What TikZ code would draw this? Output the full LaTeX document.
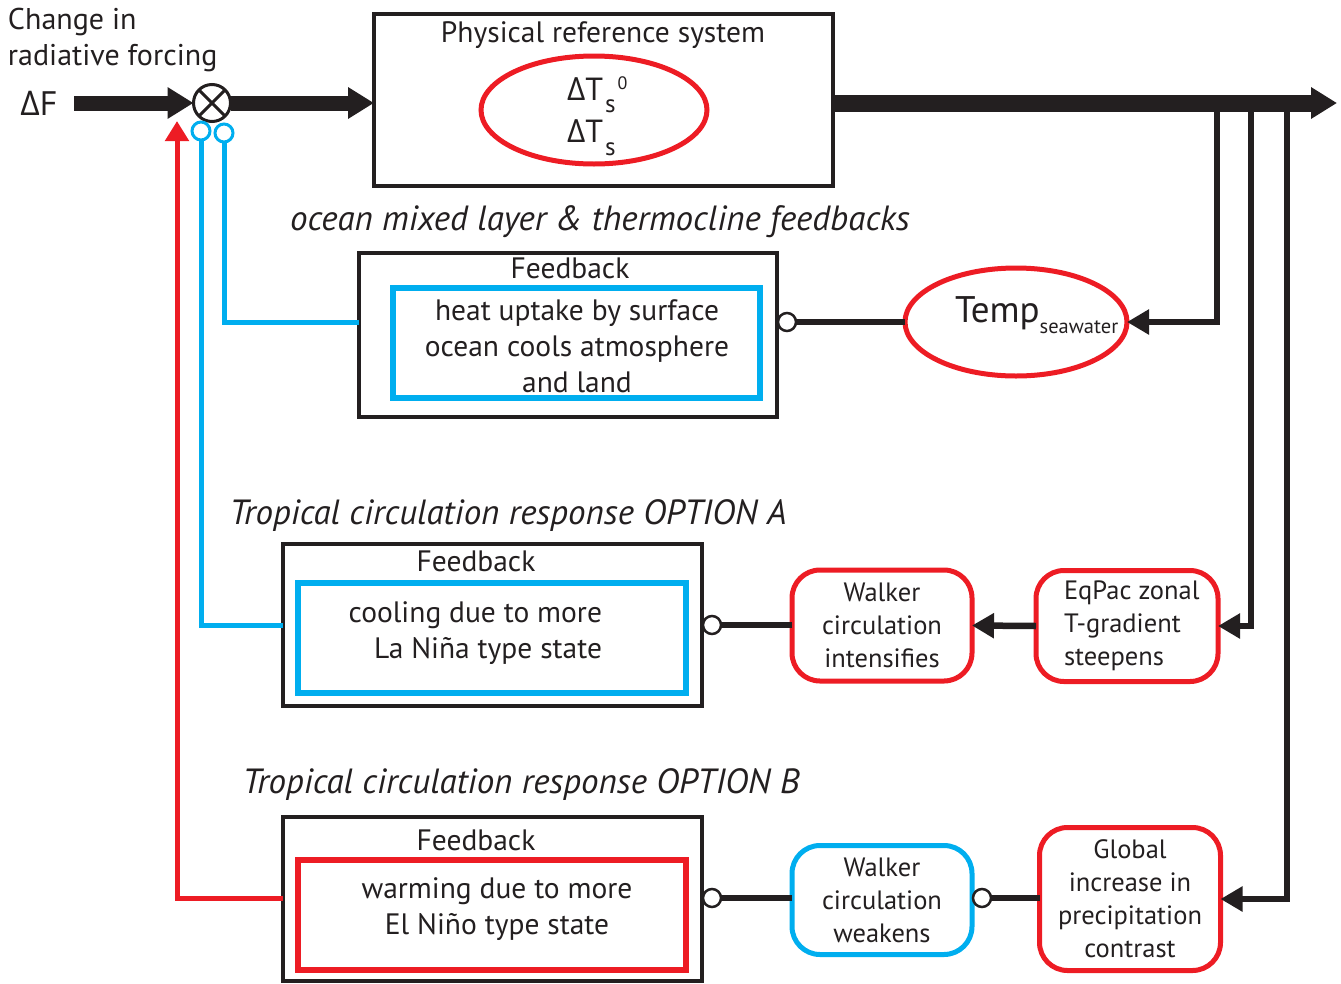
\documentclass[tikz,border=0pt]{standalone}
\usepackage{fontspec}
\setmainfont{PT Sans}
\newfontfamily\grk{Open Sans}
\usetikzlibrary{arrows.meta,shapes.geometric}
\definecolor{cred}{HTML}{ED1C24}
\definecolor{cblue}{HTML}{00AEEF}
\definecolor{cblk}{HTML}{231F20}
\newcommand{\fs}[2]{\fontsize{#1}{#2}\selectfont}
\begin{document}
\begin{tikzpicture}[x=1pt,y=-1pt,
  every node/.style={inner sep=0pt, outer sep=0pt, text=cblk},
  frame/.style={draw=cblk, line width=3.5pt, rectangle},
  inbox/.style={draw=#1, line width=6pt, rectangle},
  rbox/.style={draw=#1, line width=5pt, rounded corners=28pt, rectangle,
    minimum width=180pt, align=center, font=\fs{26.5}{33}},
  txt/.style={font=\fs{29.5}{36}, align=center},
  ttl/.style={font=\fs{35}{40}\itshape},
  oc/.style={circle, draw=cblk, fill=white, line width=2.5pt, minimum size=18pt},
  bc/.style={circle, draw=cblue, fill=white, line width=3pt, minimum size=18pt},
  fat/.style={draw=cblk, line width=15pt, -{Triangle[length=26pt,width=30pt]}},
  branch/.style={draw=cblk, line width=6.5pt},
  branchtip/.style={branch, -{Triangle[length=22pt,width=24pt]}},
  link/.style={draw=cblk, line width=6pt},
  blueline/.style={draw=cblue, line width=5pt},
  redline/.style={draw=cred, line width=5pt},
]
\useasboundingbox (0,0) rectangle (1341,983);

% forcing input
\node[anchor=west, font=\fs{30}{36}, align=left] (lbl) at (8,40) {Change in\\radiative forcing};
\node[font=\fs{34}{36}] (df) at (39,103) {{\grk Δ}F};
\coordinate (dfs) at (74,103);

% summation point
\node[circle, draw=cblk, line width=3pt, minimum size=37pt] (sum) at (212,103) {};
\draw[cblk, line width=3pt] (sum.north west) -- (sum.south east) (sum.north east) -- (sum.south west);

% physical reference system
\node[frame, minimum width=459pt, minimum height=172pt] (phys) at (603.5,100) {};
\node[txt] (physt) at (603,35) {Physical reference system};
\node[ellipse, draw=cred, line width=5pt, minimum width=226pt, minimum height=108pt] (dts) at (594,110) {};
\node[font=\fs{32}{36}, anchor=base west] (dt0) at (567,100) {{\grk Δ}T\kern2pt\raisebox{-12pt}{\fs{25}{25}s}\kern2pt\raisebox{11pt}{\fs{18}{18}0}};
\node[font=\fs{32}{36}, anchor=base west] (dt1) at (567,142) {{\grk Δ}T\kern2pt\raisebox{-13pt}{\fs{25}{25}s}};

\coordinate (out) at (1337,103);
\coordinate (b1) at (1217,103);
\coordinate (b2) at (1251,103);
\coordinate (b3) at (1287,103);

\draw[fat] (dfs) -- (sum.west);
\draw[fat] (sum.east) -- (sum.east -| phys.west);
\draw[fat, line width=17pt] (phys.east |- out) -- (out);

% ocean mixed layer feedback
\node[ttl] (t1) at (600,222) {ocean mixed layer \& thermocline feedbacks};
\node[frame, minimum width=418pt, minimum height=164pt] (fb1) at (568,335) {};
\node[txt] (fb1t) at (570,268) {Feedback};
\node[inbox=cblue, minimum width=367pt, minimum height=110pt] (ib1) at (576.5,343) {};
\node[txt] (ib1t) at (577,346) {heat uptake by surface\\ocean cools atmosphere\\and land};
\node[ellipse, draw=cred, line width=5pt, minimum width=222pt, minimum height=108pt] (temp) at (1016,322) {};
\node[anchor=base west, font=\fs{37}{40}] (tempt) at (955,322) {Temp\raisebox{-11pt}{\fs{20.5}{21}seawater}};
\node[oc] (oc1) at (787,322) {};

% option A
\node[ttl] (t2) at (508,516) {Tropical circulation response OPTION A};
\node[frame, minimum width=419pt, minimum height=162pt] (fb2) at (492.5,625) {};
\node[txt] (fb2t) at (476,561) {Feedback};
\node[inbox=cblue, minimum width=388pt, minimum height=110pt] (ib2) at (492,638) {};
\node[txt, align=right, anchor=east] (ib2t) at (602,633) {cooling due to more\\La Niña type state};
\node[oc] (oc2) at (712,625) {};
\node[rbox=cred, minimum height=111pt] (wa) at (882,625.5) {Walker\\circulation\\intensifies};
\node[rbox=cred, minimum width=182pt, minimum height=111pt] (eq) at (1127,626) {};
\node[anchor=west, align=left, font=\fs{26.5}{33}] (eqt) at (1064,626) {EqPac zonal\\T-gradient\\steepens};

% option B
\node[ttl] (t3) at (521,785) {Tropical circulation response OPTION B};
\node[frame, minimum width=419pt, minimum height=164pt] (fb3) at (492.5,899) {};
\node[txt] (fb3t) at (476,840) {Feedback};
\node[inbox=cred, minimum width=388pt, minimum height=110pt] (ib3) at (492,915) {};
\node[txt] (ib3t) at (497,909) {warming due to more\\El Niño type state};
\node[oc] (oc3) at (712,898) {};
\node[rbox=cblue, minimum height=109pt] (wb) at (882,900) {Walker\\circulation\\weakens};
\node[oc] (oc4) at (982,898) {};
\node[rbox=cred, minimum width=181pt, minimum height=143pt] (gl) at (1130,899) {Global\\increase in\\precipitation\\contrast};

% connectors
\draw[branchtip] (b1) |- (temp.east);
\draw[link] (temp.west) -- (oc1.east);
\draw[branchtip] (b2) |- (eq.east);
\draw[branchtip] (eq.west) -- (wa.east);
\draw[link] (wa.west |- oc2) -- (oc2.east);
\draw[branchtip] (b3) |- (gl.east);
\draw[link] (gl.west |- oc4) -- (oc4.east);
\draw[link] (wb.west |- oc3) -- (oc3.east);

% feedback return paths
\coordinate (rtip) at (177,121);
\node[bc] (bc1) at (224,133) {};
\node[bc] (bc2) at (201,131) {};
\draw[blueline] (fb1.west |- oc1) -| (bc1.south);
\draw[blueline] (fb2.west |- oc2) -| (bc2.south);
\draw[redline, -{Triangle[length=20pt,width=23pt]}] (fb3.west |- oc3) -| (rtip);
\end{tikzpicture}
\end{document}
